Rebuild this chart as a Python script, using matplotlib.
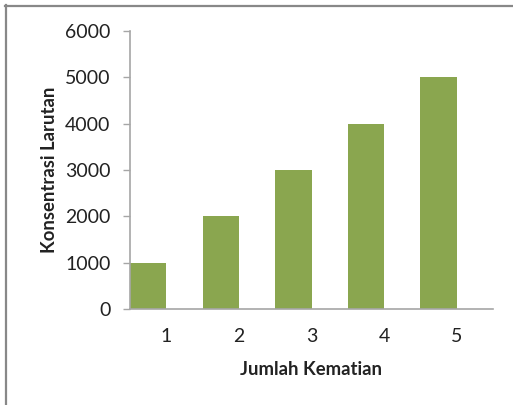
import matplotlib
matplotlib.use("Agg")
import matplotlib.pyplot as plt
from matplotlib.lines import Line2D

categories = [1, 2, 3, 4, 5]
values = [1000, 2000, 3000, 4000, 5000]
yticks = [0, 1000, 2000, 3000, 4000, 5000, 6000]

plt.rcParams['font.family'] = ['Lato', 'DejaVu Sans']

W, H = 513, 405
fig = plt.figure(figsize=(W / 100, H / 100), dpi=100)
ax = fig.add_axes([130 / W, 1 - 309 / H, 363 / W, 278 / H])

ax.bar(categories, values, width=-0.5, align='edge', color='#8AA64F', zorder=2)

ax.set_xlim(0.5, 5.5)
ax.set_ylim(0, 6000)
ax.set_yticks(yticks)
ax.set_yticklabels([str(t) for t in yticks])
ax.set_xticks(categories)
ax.set_xticklabels([str(c) for c in categories])

for s in ['top', 'right']:
    ax.spines[s].set_visible(False)
ax.spines['left'].set_color('#A6A6A6')
ax.spines['bottom'].set_color('#A6A6A6')
ax.spines['left'].set_linewidth(1.2)
ax.spines['bottom'].set_linewidth(1.2)

ax.tick_params(axis='y', direction='out', length=5, width=1, color='#A6A6A6',
               pad=9, labelsize=14, labelcolor='#222222')
ax.tick_params(axis='x', length=0, pad=14, labelsize=14, labelcolor='#222222')

ax.set_ylabel('Konsentrasi Larutan', fontsize=13.3, fontweight='bold', labelpad=5, color='#222222')
ax.set_xlabel('Jumlah Kematian', fontsize=13.3, fontweight='bold', labelpad=11, color='#222222')

# outer frame lines (top and left)
fig.add_artist(Line2D([5 / W, 1], [1 - 6 / H, 1 - 6 / H], transform=fig.transFigure,
                      color='#888888', linewidth=1.6))
fig.add_artist(Line2D([6 / W, 6 / W], [0, 1 - 5 / H], transform=fig.transFigure,
                      color='#888888', linewidth=1.6))

fig.savefig('out.png', dpi=100)
